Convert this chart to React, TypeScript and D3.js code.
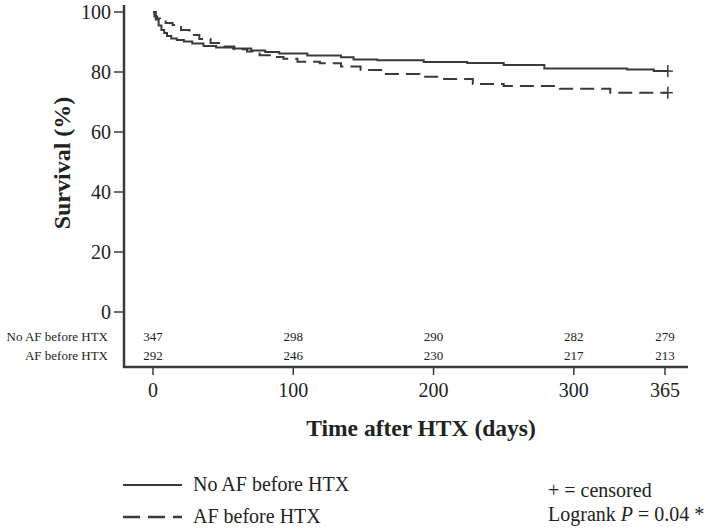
import React from "react";
import * as d3 from "d3";

const noAfTimes = [0, 2, 4, 6, 8, 10, 13, 17, 22, 28, 36, 45, 57, 70, 80, 90, 110, 134, 143, 160, 193, 224, 250, 279, 338, 357, 367];
const noAfSurv = [100, 97.5, 95.5, 94, 93, 92, 91.2, 90.7, 90.2, 89.5, 88.7, 88.2, 87.8, 87.2, 86.7, 86.2, 85.5, 84.9, 84.2, 83.9, 83.3, 83, 82.3, 81.2, 80.8, 80.3, 80.3];
const afTimes = [0, 1, 3, 5, 9, 14, 20, 26, 33, 41, 50, 58, 67, 76, 84, 93, 103, 119, 134, 148, 164, 190, 206, 228, 250, 290, 326, 367];
const afSurv = [100, 98.5, 97.8, 97.3, 96.3, 95.7, 94, 92.3, 91, 89.7, 88.5, 87.6, 86.8, 85.6, 85, 84.4, 83.4, 82.9, 81.8, 80.7, 79.3, 78.4, 77.7, 76, 75.3, 74.4, 73.1, 73.1];

const xTicks = [0, 100, 200, 300, 365];
const yTicks = [0, 20, 40, 60, 80, 100];
const riskNoAf = [347, 298, 290, 282, 279];
const riskAf = [292, 246, 230, 217, 213];
const groupNames = ["No AF before HTX", "AF before HTX"];

const FONT = "'Liberation Serif', 'Times New Roman', serif";
const INK = "#3a3a3a";

export default function App() {
  const x = d3.scaleLinear().domain([0, 365]).range([153, 665]);
  const y = d3.scaleLinear().domain([0, 100]).range([312, 12]);
  const line = d3
    .line<[number, number]>()
    .x((d) => x(d[0]))
    .y((d) => y(d[1]))
    .curve(d3.curveStepAfter);
  const noAfPts = noAfTimes.map((t, i) => [t, noAfSurv[i]] as [number, number]);
  const afPts = afTimes.map((t, i) => [t, afSurv[i]] as [number, number]);
  const lastNo = noAfPts[noAfPts.length - 1];
  const lastAf = afPts[afPts.length - 1];
  const dash = "14,7";

  const cross = (px: number, py: number, key: string) => (
    <g key={key} stroke={INK} strokeWidth={1.5}>
      <line x1={px - 5} x2={px + 5} y1={py} y2={py} />
      <line x1={px} x2={px} y1={py - 6} y2={py + 6} />
    </g>
  );

  return (
    <svg width={709} height={531} style={{ position: "absolute", left: 0, top: 0, background: "#fff" }} fontFamily={FONT}>
      <rect width={709} height={531} fill="#fff" />
      {/* axes */}
      <line x1={124} x2={124} y1={5} y2={368} stroke={INK} strokeWidth={2.5} />
      <line x1={123} x2={688} y1={367} y2={367} stroke={INK} strokeWidth={2.5} />
      {yTicks.map((t) => (
        <g key={"y" + t}>
          <line x1={114} x2={124} y1={y(t)} y2={y(t)} stroke={INK} strokeWidth={1.5} />
          <text x={111} y={y(t)} dy="0.35em" textAnchor="end" fontSize={20} fill="#222">
            {t}
          </text>
        </g>
      ))}
      {xTicks.map((t) => (
        <g key={"x" + t}>
          <line x1={x(t)} x2={x(t)} y1={367} y2={375} stroke={INK} strokeWidth={1.5} />
          <text x={x(t)} y={397} textAnchor="middle" fontSize={20} fill="#222">
            {t}
          </text>
        </g>
      ))}
      {/* titles */}
      <text x={421} y={436} textAnchor="middle" fontSize={23.5} fontWeight="bold" fill="#222">
        Time after HTX (days)
      </text>
      <text transform="translate(70,163) rotate(-90)" textAnchor="middle" fontSize={24} fontWeight="bold" fill="#222">
        Survival (%)
      </text>
      {/* number at risk */}
      <text x={108} y={341} textAnchor="end" fontSize={13} fill="#222">{groupNames[0]}</text>
      <text x={108} y={360} textAnchor="end" fontSize={13} fill="#222">{groupNames[1]}</text>
      {xTicks.map((t, i) => (
        <g key={"r" + t}>
          <text x={x(t)} y={341} textAnchor="middle" fontSize={13} fill="#222">{riskNoAf[i]}</text>
          <text x={x(t)} y={360} textAnchor="middle" fontSize={13} fill="#222">{riskAf[i]}</text>
        </g>
      ))}
      {/* curves */}
      <path d={line(noAfPts) || ""} fill="none" stroke={INK} strokeWidth={2} />
      <path d={line(afPts) || ""} fill="none" stroke={INK} strokeWidth={2} strokeDasharray={dash} />
      {cross(x(lastNo[0]), y(lastNo[1]), "c1")}
      {cross(x(lastAf[0]), y(lastAf[1]), "c2")}
      {/* legend */}
      <line x1={123} x2={182} y1={485} y2={485} stroke={INK} strokeWidth={2} />
      <text x={193} y={491} fontSize={20} fill="#222">{groupNames[0]}</text>
      <line x1={123} x2={182} y1={517} y2={517} stroke={INK} strokeWidth={2.5} strokeDasharray="17,8" />
      <text x={193} y={523} fontSize={20} fill="#222">{groupNames[1]}</text>
      <text x={548} y={497} fontSize={20} fill="#222">+ = censored</text>
      <text x={548} y={521} fontSize={20} fill="#222">
        Logrank <tspan fontStyle="italic">P</tspan> = 0.04 *
      </text>
    </svg>
  );
}
